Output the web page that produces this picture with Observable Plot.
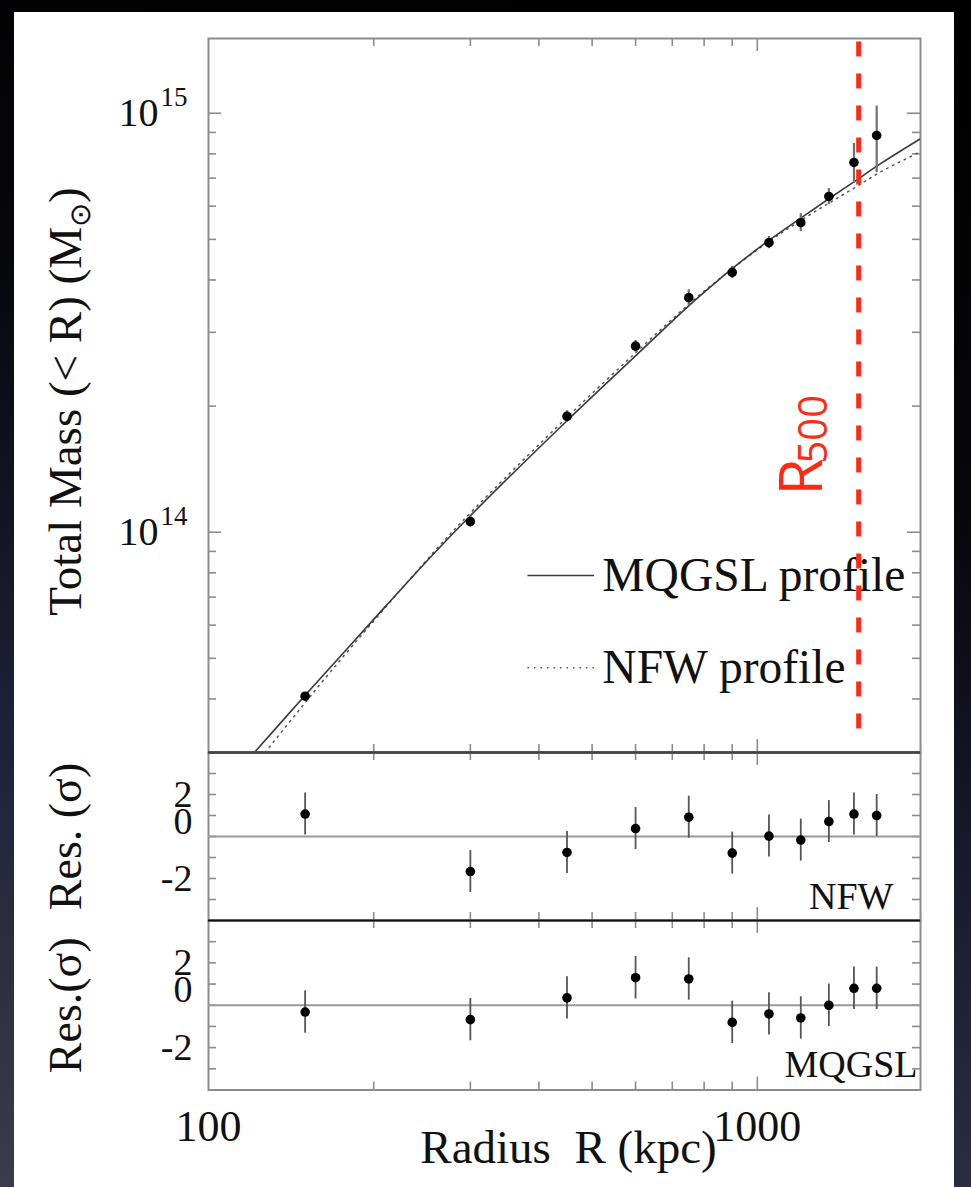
<!DOCTYPE html>
<html>
<head>
<meta charset="utf-8">
<script src="https://cdn.jsdelivr.net/npm/d3@7"></script>
<script src="https://cdn.jsdelivr.net/npm/@observablehq/plot@0.6"></script>
<style>
  html, body { margin: 0; padding: 0; }
  body {
    width: 971px; height: 1187px; overflow: hidden; position: relative;
    background: linear-gradient(195deg, #000 0%, #06060c 35%, #1c1e32 65%, #3a3c4d 100%);
  }
  #card { position: absolute; left: 14px; top: 12px; width: 940px; height: 1175px; background: #fff; }
  .panel { position: absolute; left: 0; }
</style>
</head>
<body>
<div id="card"></div>
<div id="main" class="panel" style="top:0px"></div>
<div id="nfw" class="panel" style="top:744px"></div>
<div id="mq" class="panel" style="top:912px"></div>
<script>
// Measured enclosed mass profile of the cluster, with NFW and MQGSL fits.
const radii   = [150, 300, 450, 600, 750, 900, 1050, 1200, 1350, 1500, 1650];          // kpc
const mass    = [4.06e13, 1.06e14, 1.89e14, 2.78e14, 3.63e14, 4.17e14, 4.91e14, 5.48e14, 6.33e14, 7.63e14, 8.85e14];
const massLo  = [3.97e13, 1.03e14, 1.83e14, 2.69e14, 3.47e14, 4.03e14, 4.75e14, 5.22e14, 6.05e14, 6.80e14, 7.22e14];
const massHi  = [4.14e13, 1.09e14, 1.95e14, 2.87e14, 3.79e14, 4.31e14, 5.08e14, 5.76e14, 6.61e14, 8.47e14, 1.04e15];

// Best-fit model curves, M(<R)
const mqgslR = [119, 150, 197, 260, 300, 450, 600, 750, 856, 900, 1050, 1200, 1350, 1500, 1680, 1990];
const mqgslM = [2.90e13, 4.08e13, 6.06e13, 9.02e13, 1.095e14, 1.845e14, 2.635e14, 3.47e14, 4.03e14, 4.26e14, 4.97e14, 5.62e14, 6.25e14, 6.86e14, 7.59e14, 8.72e14];
const nfwR   = [124.7, 145, 166.5, 197, 260, 300, 450, 600, 750, 856, 1047, 1198, 1347, 1496, 1676, 1983, 2000];
const nfwM   = [2.90e13, 3.71e13, 4.63e13, 6.00e13, 9.10e13, 1.112e14, 1.88e14, 2.68e14, 3.50e14, 4.04e14, 4.93e14, 5.54e14, 6.09e14, 6.61e14, 7.24e14, 8.10e14, 8.15e14];

// Residuals of the data about each fit, in units of sigma
const nfwRes   = [1.07, -1.67, -0.76, 0.38, 0.92, -0.79, 0.02, -0.17, 0.71, 1.07, 1.00];
const mqgslRes = [-0.32, -0.68, 0.35, 1.30, 1.24, -0.81, -0.41, -0.60, 0.00, 0.80, 0.80];

const R500 = 1530; // kpc

// Axes
const xDomain = [100, 1983];
const yDomain = [2.98e13, 1.508e15];
const resDomain = [-4, 4];
const xTickLabels = [100, 1000];
const xMinorTicks = [200, 300, 400, 500, 600, 700, 800, 900];
const xMajorTicks = [1000];
const yMajorTicks = [1e14, 1e15];
const yMinorTicks = [4e13, 5e13, 6e13, 7e13, 8e13, 9e13, 2e14, 3e14, 4e14, 5e14, 6e14, 7e14, 8e14, 9e14];
const resTicks = [-3, -2, -1, 0, 1, 2, 3];
const resLabelsOuter = [2, -2];
const resLabelsZero = [0];

// Legend entries (placed in data space on the upper panel)
const legendNames = ["MQGSL profile", "NFW profile"];
const legendY = [7.88e13, 4.75e13];
const legendX = [382, 505, 522];

const RED = "#ff2a14";
const INK = "#111";
const GRAY = "#8c8c8c";
const serif = "'Liberation Serif','Times New Roman',serif";
const FW = 712; // frame width in px

const points = radii.map((r, i) => ({r, m: mass[i], lo: massLo[i], hi: massHi[i]}));
const mqgslCurve = mqgslR.map((r, i) => ({r, m: mqgslM[i]}));
const nfwCurve = nfwR.map((r, i) => ({r, m: nfwM[i]}));
const resRows = res => radii.map((r, i) => ({r, v: res[i], lo: res[i] - 1, hi: res[i] + 1}));

const base = {
  width: 971, marginLeft: 208, marginRight: 51,
  style: {fontFamily: serif, background: "transparent", color: INK, overflow: "visible"}
};

// inward-pointing ticks on all four sides of a panel
function frameTicks(H, yMinor, yMajor) {
  const s = {stroke: GRAY, strokeWidth: 1.6};
  const marks = [];
  for (const [vals, len] of [[xMinorTicks, 8], [xMajorTicks, 13]]) {
    marks.push(Plot.ruleX(vals, {...s, insetTop: H - len}));
    marks.push(Plot.ruleX(vals, {...s, insetBottom: H - len}));
  }
  for (const [vals, len] of [[yMinor, 8], [yMajor, 13]]) {
    marks.push(Plot.ruleY(vals, {...s, insetRight: FW - len}));
    marks.push(Plot.ruleY(vals, {...s, insetLeft: FW - len}));
  }
  return marks;
}

// ---------- upper panel: total mass ----------
const yTitle = "Total Mass (< R) (M⊙)";
const mainPlot = Plot.plot({
  ...base,
  height: 760, marginTop: 38, marginBottom: 8,
  x: {type: "log", domain: xDomain, axis: null},
  y: {type: "log", domain: yDomain, axis: null},
  marks: [
    Plot.frame({stroke: GRAY, strokeWidth: 2}),
    ...frameTicks(714, yMinorTicks, yMajorTicks),
    Plot.ruleY([yDomain[0]], {stroke: "#444", strokeWidth: 2.5}),
    Plot.line(nfwCurve, {x: "r", y: "m", stroke: "#555", strokeWidth: 1.5, strokeDasharray: "1.5,5", curve: "catmull-rom", clip: true}),
    Plot.line(mqgslCurve, {x: "r", y: "m", stroke: "#3a3a3a", strokeWidth: 1.6, curve: "catmull-rom", clip: true}),
    // legend
    Plot.ruleY([legendY[0]], {x1: legendX[0], x2: legendX[1], stroke: "#3a3a3a", strokeWidth: 1.6}),
    Plot.ruleY([legendY[1]], {x1: legendX[0], x2: legendX[1], stroke: "#555", strokeWidth: 1.5, strokeDasharray: "1.5,5"}),
    Plot.text(legendNames, {x: legendX[2], y: (d, i) => legendY[i], text: d => d, textAnchor: "start", lineAnchor: "middle", fontSize: 47.5, fill: INK}),
    // data
    Plot.ruleX(points, {x: "r", y1: "lo", y2: "hi", stroke: "#707070", strokeWidth: 2.2}),
    Plot.dot(points, {x: "r", y: "m", r: 4.8, fill: "#000", stroke: "none"}),
    // y tick labels as 10^n
    Plot.text(yMajorTicks, {y: d => d, text: () => "10", frameAnchor: "left", dx: -50, textAnchor: "end", lineAnchor: "middle", fontSize: 40, fill: INK}),
    Plot.text(yMajorTicks, {y: d => d, text: d => String(Math.round(Math.log10(d))), frameAnchor: "left", dx: -48, dy: -7, textAnchor: "start", lineAnchor: "bottom", fontSize: 27, fill: INK}),
    Plot.text([yTitle], {frameAnchor: "left", dx: -128, dy: 6, rotate: -90, textAnchor: "middle", lineAnchor: "bottom", fontSize: 47, fill: INK}),
    // R500 marker
    Plot.ruleX([R500], {stroke: RED, strokeWidth: 5, strokeDasharray: "15,17", strokeDashoffset: -3.6, insetBottom: 20}),
    Plot.text([R500], {x: d => d, text: () => "R", frameAnchor: "top", dx: -36.5, dy: 457, rotate: -90, textAnchor: "start", lineAnchor: "bottom", fontSize: 60, fill: RED, fontFamily: "'Liberation Sans Narrow','Open Sans',sans-serif"}),
    Plot.text([R500], {x: d => d, text: () => "500", frameAnchor: "top", dx: -31.5, dy: 425, rotate: -90, textAnchor: "start", lineAnchor: "bottom", fontSize: 40, fill: RED, fontFamily: "'Liberation Sans Narrow','Open Sans',sans-serif"})
  ]
});

// subscript solar symbol in the mass axis title
d3.select(mainPlot).selectAll("text").filter(function () { return this.textContent === yTitle; }).each(function () {
  const t = d3.select(this);
  t.text(null);
  t.append("tspan").text("Total Mass (< R) (M");
  t.append("tspan").attr("dy", "9px").attr("font-size", "29px").text("⊙");
  t.append("tspan").attr("dy", "-9px").text(")");
});
document.getElementById("main").appendChild(mainPlot);

// ---------- residual panels ----------
function residualPanel(res, name, title, opts) {
  const rows = resRows(res);
  const H = opts.frameH;
  const marks = [
    Plot.frame({stroke: GRAY, strokeWidth: 2}),
    ...frameTicks(H, resTicks, []),
    Plot.ruleY([0], {stroke: "#999", strokeWidth: 2}),
    Plot.ruleY([resDomain[1]], {stroke: opts.topStroke, strokeWidth: opts.topWidth}),
    Plot.ruleX(rows, {x: "r", y1: "lo", y2: "hi", stroke: "#555", strokeWidth: 1.8}),
    Plot.dot(rows, {x: "r", y: "v", r: 4.8, fill: "#000", stroke: "none"}),
    Plot.text(resLabelsOuter, {y: d => d, text: d => String(d), frameAnchor: "left", dx: -16, textAnchor: "end", lineAnchor: "middle", fontSize: 38, fill: INK}),
    Plot.text(resLabelsZero, {y: d => d, text: d => String(d), frameAnchor: "left", dx: -16, dy: -15, textAnchor: "end", lineAnchor: "middle", fontSize: 38, fill: INK}),
    Plot.text([name], {frameAnchor: "bottom-right", dx: opts.nameDx, dy: opts.nameDy, textAnchor: "end", lineAnchor: "bottom", fontSize: 38, fill: INK}),
    Plot.text([title], {frameAnchor: "left", dx: -128, rotate: -90, textAnchor: "middle", lineAnchor: "bottom", fontSize: 46, fill: INK})
  ];
  if (opts.xLabels) {
    marks.push(
      Plot.text(xTickLabels, {x: d => d, text: d => String(d), frameAnchor: "bottom", dy: 51, lineAnchor: "bottom", fontSize: 44, fill: INK}),
      Plot.text(["Radius\u00a0\u00a0R (kpc)"], {frameAnchor: "bottom", dx: 4, dy: 72.5, lineAnchor: "bottom", fontSize: 47, fill: INK})
    );
  }
  return Plot.plot({
    ...base,
    height: opts.height, marginTop: 8, marginBottom: opts.marginBottom,
    x: {type: "log", domain: xDomain, axis: null},
    y: {domain: resDomain, axis: null},
    marks
  });
}

document.getElementById("nfw").appendChild(residualPanel(nfwRes, "NFW", "Res. (σ)", {
  frameH: 168, height: 184, marginBottom: 8, topStroke: "#444", topWidth: 2.5, nameDx: -27, nameDy: -12
}));
document.getElementById("mq").appendChild(residualPanel(mqgslRes, "MQGSL", "Res.(σ)", {
  frameH: 169.5, height: 275, marginBottom: 97.5, topStroke: "#111", topWidth: 2, nameDx: -3, nameDy: -13.5, xLabels: true
}));
</script>
</body>
</html>
